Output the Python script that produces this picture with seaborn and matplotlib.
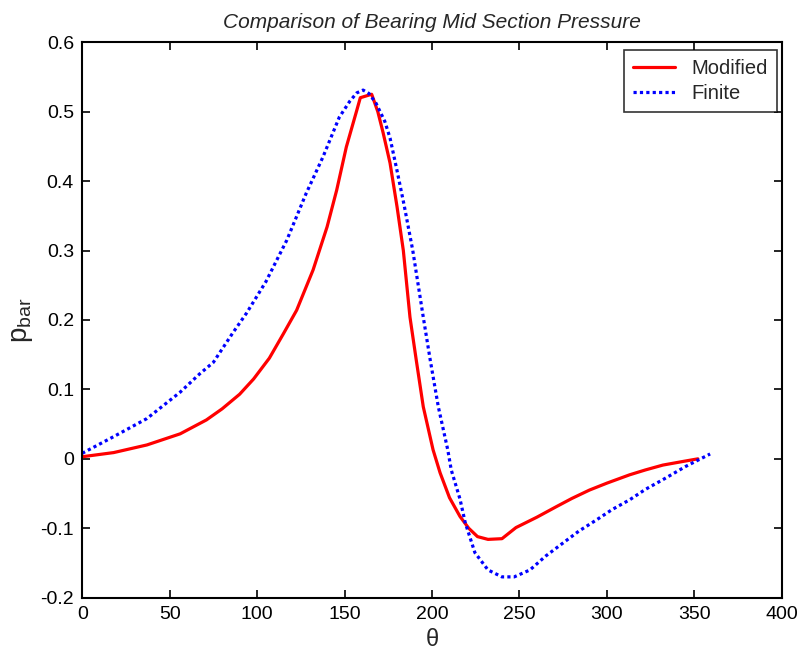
import matplotlib
matplotlib.use("Agg")
import matplotlib.pyplot as plt
import seaborn as sns
import pandas as pd

# Modified (red, solid)
theta_mod = [0, 18, 37, 56, 71, 80, 90, 98, 107, 115, 122.6, 132, 140, 145.5, 151, 157,
             159, 165.5, 169, 172, 176, 180, 183.6, 187.4, 191, 195, 200.6, 204.6, 210,
             216, 221, 226, 232, 240, 248, 260, 271, 280, 290, 300, 313, 322, 332, 343, 352]
p_mod = [0.003, 0.009, 0.020, 0.036, 0.056, 0.072, 0.093, 0.115, 0.145, 0.180, 0.214,
         0.272, 0.334, 0.387, 0.449, 0.502, 0.520, 0.525, 0.500, 0.470, 0.426, 0.363,
         0.300, 0.204, 0.142, 0.075, 0.013, -0.020, -0.056, -0.083, -0.100, -0.112,
         -0.116, -0.115, -0.099, -0.084, -0.069, -0.057, -0.045, -0.035, -0.023, -0.016,
         -0.009, -0.004, 0.000]

# Finite (blue, dotted)
theta_fin = [0, 18, 37, 56, 67, 75, 86, 94, 105, 117, 128, 137.7, 147, 153, 157, 160.6,
             164, 168, 173, 176, 180, 184, 189, 195, 199, 203.6, 209, 211, 216, 219, 224.5,
             232, 240, 247, 256, 265, 275, 284, 294, 303, 313, 322, 332, 345, 359]
p_fin = [0.008, 0.032, 0.058, 0.096, 0.122, 0.139, 0.181, 0.210, 0.255, 0.315, 0.382,
         0.435, 0.492, 0.515, 0.527, 0.531, 0.526, 0.512, 0.486, 0.462, 0.415, 0.366,
         0.300, 0.204, 0.142, 0.075, 0.013, -0.016, -0.058, -0.092, -0.135, -0.160,
         -0.170, -0.170, -0.160, -0.140, -0.121, -0.104, -0.088, -0.073, -0.059, -0.044,
         -0.030, -0.011, 0.007]

title = "Comparison of Bearing Mid Section Pressure"
xticks = [0, 50, 100, 150, 200, 250, 300, 350, 400]
yticks = [-0.2, -0.1, 0, 0.1, 0.2, 0.3, 0.4, 0.5, 0.6]
ytick_labels = ["-0.2", "-0.1", "0", "0.1", "0.2", "0.3", "0.4", "0.5", "0.6"]

sns.set_style("ticks")
plt.rcParams['font.family'] = ['Liberation Sans', 'DejaVu Sans']
plt.rcParams['mathtext.fontset'] = 'custom'
plt.rcParams['mathtext.rm'] = 'Liberation Sans'
plt.rcParams['mathtext.it'] = 'Liberation Sans:italic'

fig = plt.figure(figsize=(8.06, 6.59), dpi=100)
ax = fig.add_axes([0.102, 0.093, 0.868, 0.843])

df_mod = pd.DataFrame({"theta": theta_mod, "p": p_mod})
df_fin = pd.DataFrame({"theta": theta_fin, "p": p_fin})

sns.lineplot(data=df_mod, x="theta", y="p", ax=ax, color="#ff0000", linewidth=2.3,
             label="Modified", sort=False, estimator=None, solid_joinstyle="round")
sns.lineplot(data=df_fin, x="theta", y="p", ax=ax, color="#0000ff", linewidth=2.3,
             linestyle=(0, (1, 1)), label="Finite", sort=False, estimator=None)

ax.set_xlim(0, 400)
ax.set_ylim(-0.2, 0.6)
ax.set_xticks(xticks)
ax.set_xticklabels([str(t) for t in xticks])
ax.set_yticks(yticks)
ax.set_yticklabels(ytick_labels)
ax.tick_params(direction="in", length=6, width=1.2, top=True, right=True,
               labelsize=14, pad=6, colors="black")
for s in ax.spines.values():
    s.set_visible(True)
    s.set_linewidth(1.5)
    s.set_color("black")

ax.set_title(title, fontsize=15, style="italic", pad=10)
ax.set_xlabel("θ", fontsize=17, labelpad=4)
ax.set_ylabel(r"p$_{\mathrm{bar}}$", fontsize=20, labelpad=4)

leg = ax.legend(loc="upper right", fontsize=14.5, frameon=True, fancybox=False,
                edgecolor="black", handlelength=2.1, handletextpad=0.8, borderpad=0.45,
                labelspacing=0.3, borderaxespad=0, bbox_to_anchor=(0.993, 0.986))
leg.get_frame().set_linewidth(1.2)

fig.savefig("out.png", dpi=100, facecolor="white")
